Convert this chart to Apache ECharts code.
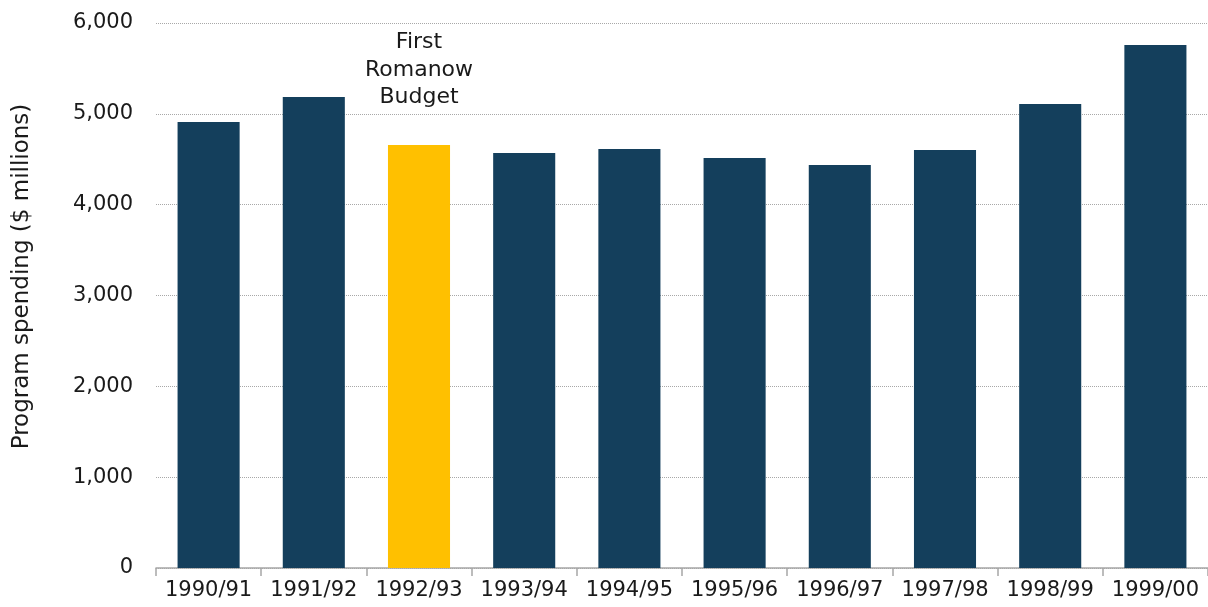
<!DOCTYPE html>
<html>
<head>
<meta charset="utf-8">
<script src="https://cdn.jsdelivr.net/npm/echarts@6/dist/echarts.min.js"></script>
<style>
html,body{margin:0;padding:0;background:#fff;}
#chart{width:1208px;height:607px;}
</style>
</head>
<body>
<div id="chart"></div>
<script>
const categories = ['1990/91','1991/92','1992/93','1993/94','1994/95','1995/96','1996/97','1997/98','1998/99','1999/00'];
const spending = [4910, 5186, 4657, 4569, 4613, 4514, 4437, 4602, 5108, 5758];
const highlightCategory = '1992/93';
const annotationText = 'First\nRomanow\nBudget';
const yTicks = { min: 0, max: 6000, interval: 1000 };

const NAVY = '#143f5c';
const GOLD = '#ffc000';
const FONT = '"DejaVu Sans", "Noto Sans", sans-serif';

const chart = echarts.init(document.getElementById('chart'));
chart.setOption({
  animation: false,
  grid: { left: 156, right: 0, top: 23, bottom: 39, containLabel: false, outerBoundsMode: 'none' },
  xAxis: {
    type: 'category',
    data: categories,
    axisLine: { lineStyle: { color: '#a6a6a6', width: 1.5 } },
    axisTick: { show: true, length: 8, lineStyle: { color: '#a6a6a6', width: 1.5 } },
    axisLabel: { color: '#1a1a1a', fontSize: 21, fontFamily: FONT, margin: 12, interval: 0 }
  },
  yAxis: {
    type: 'value',
    min: yTicks.min, max: yTicks.max, interval: yTicks.interval,
    name: 'Program spending ($ millions)',
    nameLocation: 'middle',
    nameGap: 122,
    nameTextStyle: { color: '#1a1a1a', fontSize: 23, fontFamily: FONT, padding: [0, 0, 0, 38] },
    axisLine: { show: false },
    axisTick: { show: false },
    axisLabel: {
      color: '#1a1a1a', fontSize: 21, fontFamily: FONT, margin: 23,
      formatter: v => v.toLocaleString('en-US')
    },
    splitLine: { lineStyle: { color: '#a8a8a8', type: [1, 1], width: 1 } }
  },
  series: [{
    type: 'bar',
    data: spending.map((v, i) => ({
      value: v,
      itemStyle: { color: categories[i] === highlightCategory ? GOLD : NAVY }
    })),
    barCategoryGap: '41%',
    markPoint: {
      symbol: 'circle',
      symbolSize: 0,
      data: [{ coord: [highlightCategory, 5480], value: 0 }],
      label: {
        show: true,
        position: 'inside',
        formatter: annotationText,
        color: '#1a1a1a',
        fontSize: 22,
        lineHeight: 27.5,
        fontFamily: FONT,
        align: 'center'
      }
    }
  }]
});
</script>
</body>
</html>
